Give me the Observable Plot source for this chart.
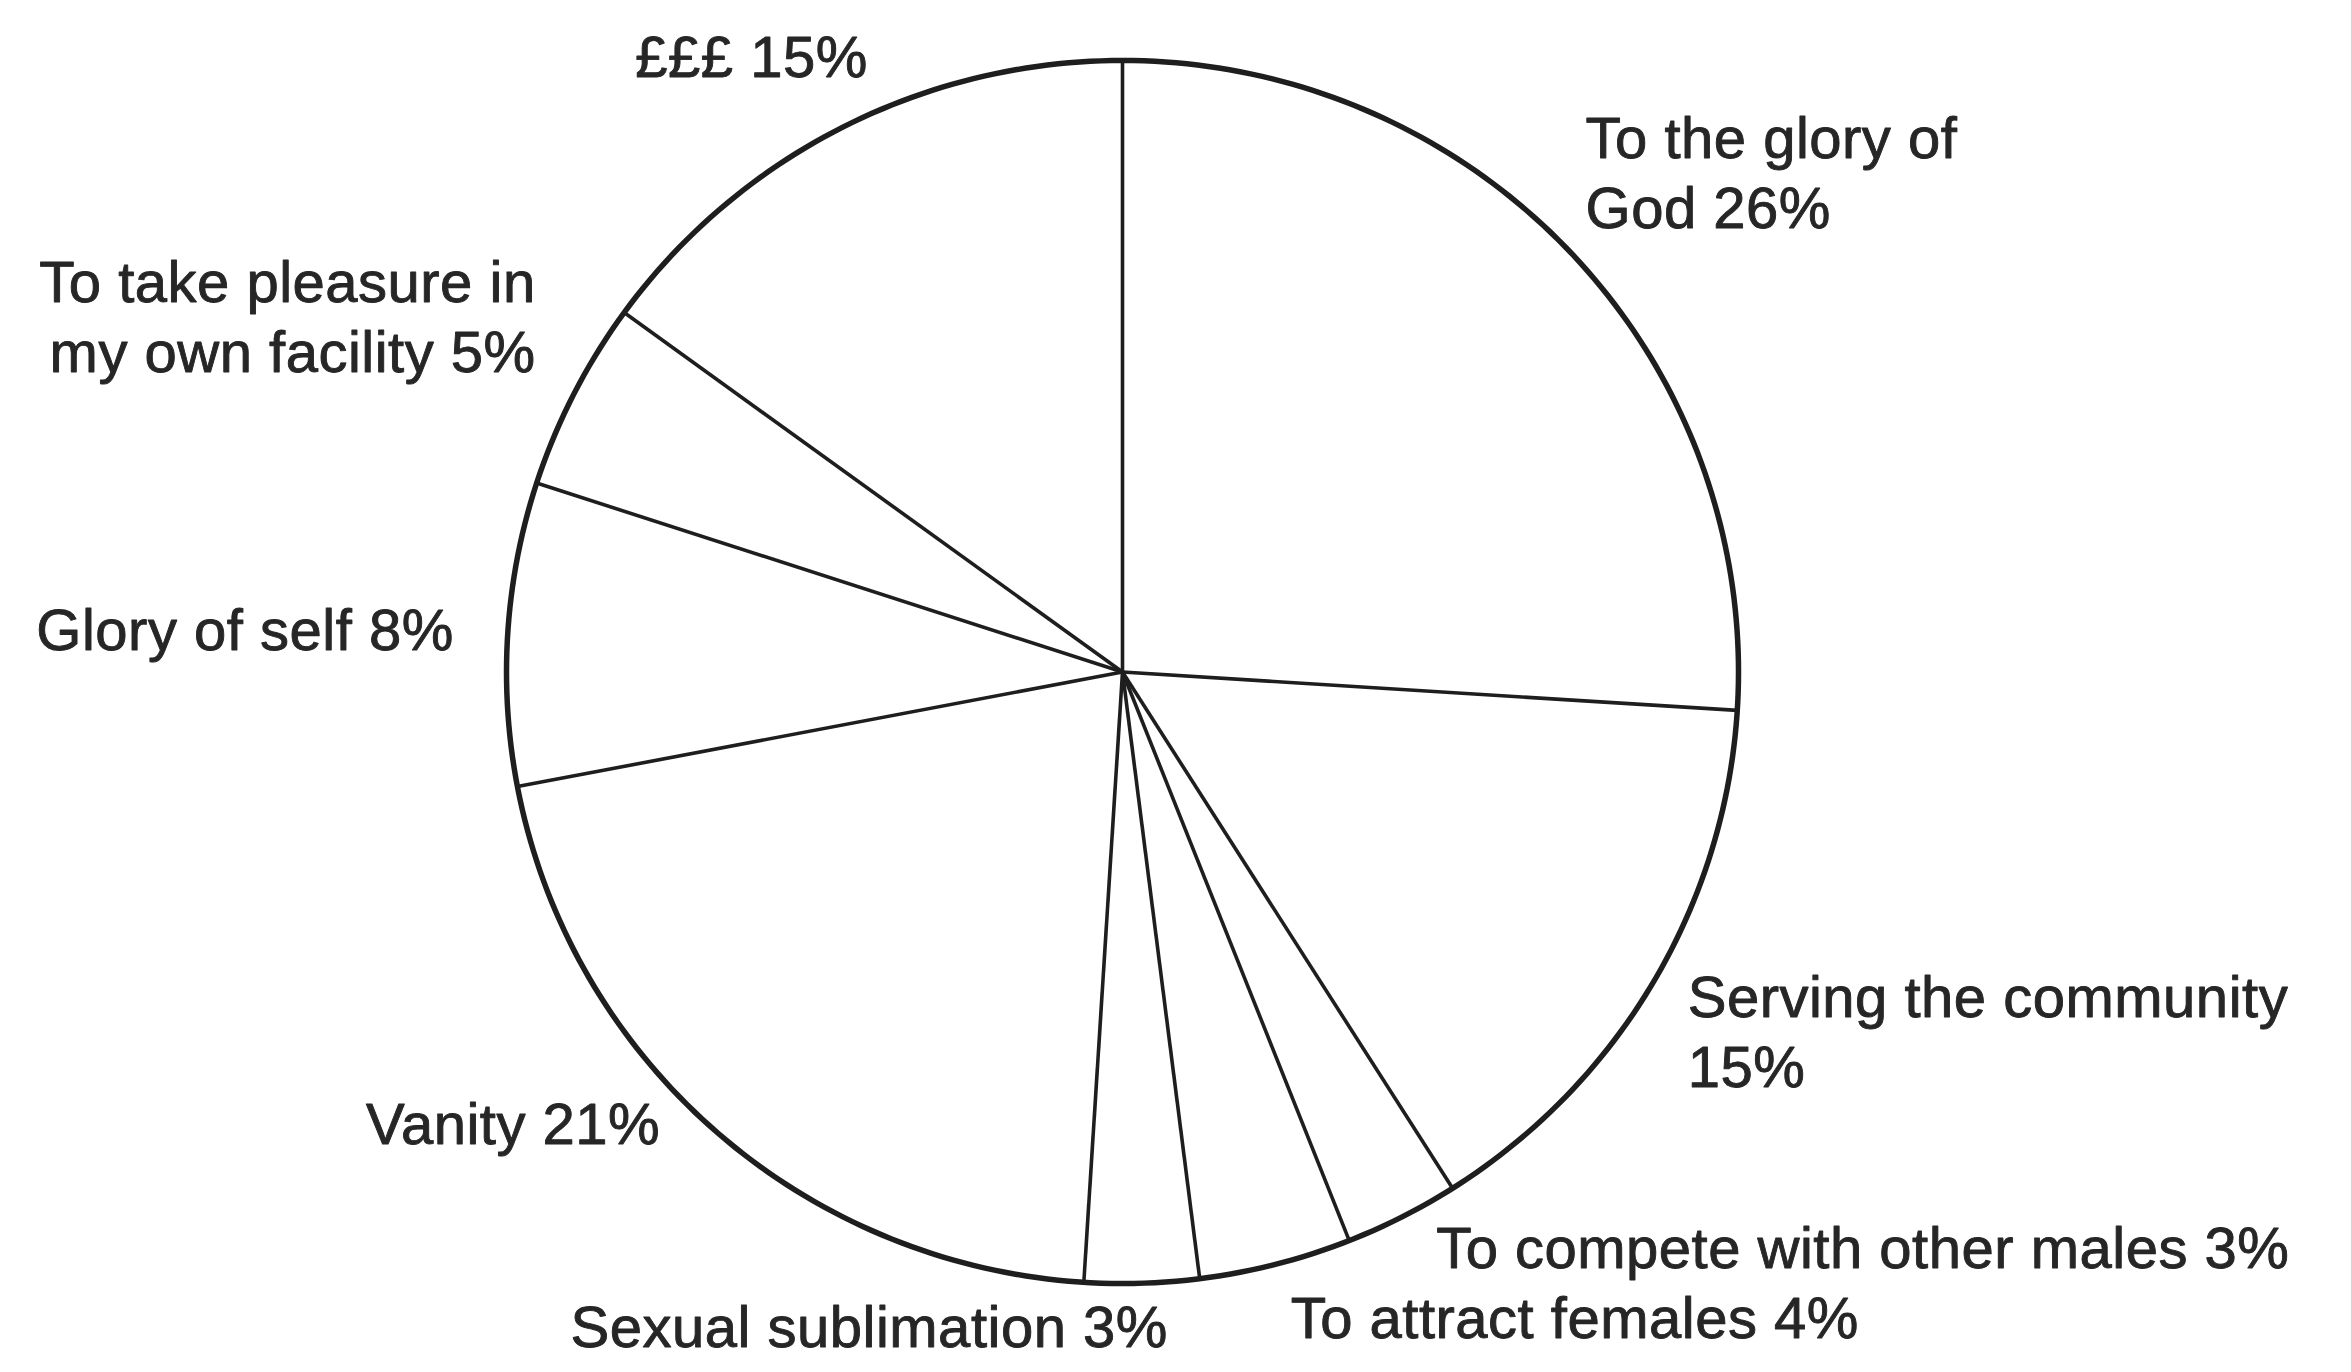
<!DOCTYPE html>
<html>
<head>
<meta charset="utf-8">
<script src="https://cdn.jsdelivr.net/npm/d3@7"></script>
<script src="https://cdn.jsdelivr.net/npm/@observablehq/plot@0.6"></script>
<style>
  html, body { margin: 0; padding: 0; background: #ffffff; }
  #chart svg { display: block; }
</style>
</head>
<body>
<div id="chart"></div>
<script>
// ---- data (clockwise from 12 o'clock) ----
const categories = [
  "To the glory of God",
  "Serving the community",
  "To compete with other males",
  "To attract females",
  "Sexual sublimation",
  "Vanity",
  "Glory of self",
  "To take pleasure in my own facility",
  "£££"
];
const values = [26, 15, 3, 4, 3, 21, 8, 5, 15];
const labelNames = [
  "To the glory of\nGod",
  "Serving the community\n",
  "To compete with other males",
  "To attract females",
  "Sexual sublimation",
  "Vanity",
  "Glory of self",
  "To take pleasure in\nmy own facility",
  "£££"
];

// ---- label layout (pixel offsets from the slice's mid-angle point on the rim) ----
const labelLayout = [
  {anchor: "start", dx: 14, dy: -25},
  {anchor: "start", dx: 35, dy: 104},
  {anchor: "start", dx: 34, dy: 51},
  {anchor: "start", dx: 15, dy: 74},
  {anchor: "end", dx: 26, dy: 64},
  {anchor: "end", dx: -55, dy: 13},
  {anchor: "end", dx: -54, dy: 16},
  {anchor: "end", dx: -38, dy: -22},
  {anchor: "end", dx: 25, dy: -50}
];

// ---- derive slices ----
const total = d3.sum(values);
let acc = 0;
const slices = categories.map((c, i) => {
  const start = acc / total * 2 * Math.PI;
  acc += values[i];
  const end = acc / total * 2 * Math.PI;
  const sep = labelNames[i].endsWith("\n") ? "" : " ";
  return {category: c, value: values[i], start, end, mid: (start + end) / 2,
          label: labelNames[i] + sep + values[i] + "%", layout: labelLayout[i]};
});

const rim = d3.range(0, 361).map(a => ({a: a * Math.PI / 180}));
const ink = "#1e1e1e";
const font = "'Liberation Sans', Arial, Helvetica, sans-serif";

const marks = [
  Plot.line(rim, {x: d => Math.sin(d.a), y: d => Math.cos(d.a), stroke: ink, strokeWidth: 5.5, curve: "linear"}),
  Plot.link(slices, {x1: () => 0, y1: () => 0, x2: d => Math.sin(d.start), y2: d => Math.cos(d.start),
                     stroke: ink, strokeWidth: 3.6})
];
slices.forEach(s => {
  marks.push(Plot.text([s], {
    x: d => Math.sin(d.mid), y: d => Math.cos(d.mid), text: "label",
    textAnchor: s.layout.anchor, lineAnchor: "bottom", lineHeight: 1.22,
    dx: s.layout.dx, dy: s.layout.dy,
    fontSize: 58, fontFamily: font, fill: "#262626",
    stroke: "#262626", strokeWidth: 0.9
  }));
});

const chart = Plot.plot({
  width: 2351,
  height: 1372,
  margin: 0,
  style: {background: "#ffffff", fontFamily: font, letterSpacing: "0.5px"},
  x: {domain: [-1, 1], range: [506, 1738], axis: null},
  y: {domain: [-1, 1], range: [1283, 60], axis: null},
  marks
});
document.getElementById("chart").appendChild(chart);
</script>
</body>
</html>
